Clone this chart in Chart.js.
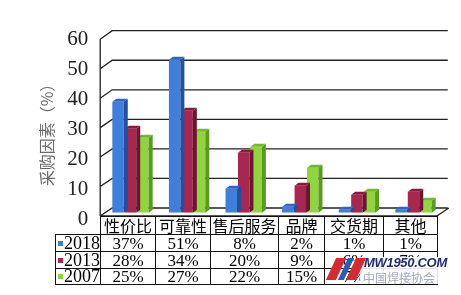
<!DOCTYPE html>
<html><head><meta charset="utf-8">
<script src="https://cdn.jsdelivr.net/npm/chart.js@4.4.1/dist/chart.umd.min.js"></script>
<style>
html,body{margin:0;padding:0;background:#fff;}
#wrap{position:relative;width:461px;height:295px;overflow:hidden;background:#fff;}
#c{position:absolute;left:0;top:0;}
#tbl{position:absolute;left:55px;top:216px;border-collapse:collapse;table-layout:fixed;width:382px;}
#tbl td{border:1px solid #111;padding:0;text-align:center;font-family:"Liberation Serif",serif;font-size:17px;line-height:15px;color:#000;white-space:nowrap;overflow:hidden;}
#tbl td.hd{font-family:"Noto Sans CJK SC";font-size:16px;}
#tbl td.empty{border:none;}
#tbl td.lg{text-align:left;font-size:18px;}
.sw{display:inline-block;width:5px;height:5px;margin:0 1px 0 2px;vertical-align:middle;position:relative;top:-1px;}
#wm{position:absolute;left:326px;top:254px;width:116px;height:31px;}
#wm .bg{position:absolute;left:34px;top:3px;width:80px;height:27px;background:rgba(255,255,255,0.88);}
#wm .r1{position:absolute;left:5px;top:4px;width:10px;height:22px;background:#d62a2e;transform:skewX(-25deg);}
#wm .b1{position:absolute;left:17px;top:4px;width:6px;height:22px;background:#2a5cb8;transform:skewX(-25deg);}
#wm .r2{position:absolute;left:25px;top:4px;width:10px;height:22px;background:#d62a2e;transform:skewX(-25deg);}
#wm .t1{position:absolute;left:38px;top:1px;font:italic bold 13px "Liberation Sans",Arial,sans-serif;color:#1c2f74;letter-spacing:-0.3px;}
#wm .t2{position:absolute;left:37px;top:15px;font:12px "Noto Sans CJK SC";color:#a4acbd;}
</style></head>
<body>
<div id="wrap">
<canvas id="c" width="461" height="295"></canvas>
<table id="tbl"><colgroup id="cg"></colgroup><tbody id="tb"></tbody></table>
<div id="wm"><div class="bg"></div><div class="r1"></div><div class="b1"></div><div class="r2"></div><div class="t1">MW1950.COM</div><div class="t2">中国焊接协会</div></div>
</div>
<script>
const categories = ['性价比','可靠性','售后服务','品牌','交货期','其他'];
const seriesNames = ['2018','2013','2007'];
const values2018 = [37,51,8,2,1,1];
const values2013 = [28,34,20,9,6,7];
const values2007 = [25,27,22,15,7,4];
const yTicks = [0,10,20,30,40,50,60];
const yTitle = '采购因素（%）';

const fronts = ['#3f7fdc','#a8264f','#8fd63e'];
const sides  = ['#21509f','#6c1431','#5b9a1f'];
const tops   = ['#2f66c4','#8a1b3f','#74b82c'];

const wall3d = {
  id:'wall3d',
  beforeDatasetsDraw(chart){
    const {ctx, chartArea:a, scales:{y}} = chart;
    const y0 = y.getPixelForValue(0);
    const fy = v => y0 + 3.3 + (y.getPixelForValue(v)-y0)*0.982;
    const by = v => y0 - 4.7 + (y.getPixelForValue(v)-y0)*0.985;
    const fx = a.left-2, bx = a.left+10, br = a.right+6, fr = a.right-5;
    ctx.save();
    ctx.strokeStyle='#222'; ctx.lineWidth=1.3;
    ctx.beginPath();
    yTicks.forEach(v=>{
      ctx.moveTo(fx, fy(v)); ctx.lineTo(bx, by(v)); ctx.lineTo(br, by(v));
    });
    ctx.moveTo(fx, fy(yTicks[yTicks.length-1])); ctx.lineTo(fx, fy(0));
    ctx.moveTo(fx, fy(0)); ctx.lineTo(fr, fy(0)); ctx.lineTo(br+1, by(0));
    ctx.stroke();
    ctx.restore();
  },
  afterDatasetDraw(chart, args){
    const {ctx} = chart;
    const i = args.index;
    const d = 4, dy = 3;
    ctx.save();
    args.meta.data.forEach(el=>{
      const {x, y, base, width} = el.getProps(['x','y','base','width'], true);
      const l = x - width/2, r = x + width/2;
      ctx.fillStyle = sides[i];
      ctx.beginPath();
      ctx.moveTo(r, y); ctx.lineTo(r+d, y-dy); ctx.lineTo(r+d, base-dy); ctx.lineTo(r, base); ctx.closePath(); ctx.fill();
      ctx.fillStyle = tops[i];
      ctx.beginPath();
      ctx.moveTo(l, y); ctx.lineTo(l+d, y-dy); ctx.lineTo(r+d, y-dy); ctx.lineTo(r, y); ctx.closePath(); ctx.fill();
    });
    ctx.restore();
  },
  afterDraw(chart){
    const {ctx} = chart;
    ctx.save();
    ctx.translate(47,131);
    ctx.rotate(-Math.PI/2);
    ctx.textAlign='center'; ctx.textBaseline='middle';
    ctx.font='16px "Noto Sans CJK SC"';
    ctx.fillStyle='#6a6a6a';
    ctx.fillText(yTitle,0,0);
    ctx.restore();
  }
};

const allSeries = [values2018, values2013, values2007];
new Chart(document.getElementById('c'), {
  type:'bar',
  data:{
    labels: categories,
    datasets: seriesNames.map((n,i)=>({
      label:n, data: allSeries[i], backgroundColor: fronts[i], borderWidth:0,
      categoryPercentage:0.66, barPercentage:0.92
    }))
  },
  options:{
    responsive:false, animation:false,
    layout:{padding:{left:0,right:19.2,top:32.7,bottom:82.3}},
    plugins:{legend:{display:false}, tooltip:{enabled:false}},
    scales:{
      x:{display:false},
      y:{
        min:0, max:60,
        afterFit(s){ s.width = 102.2; },
        afterBuildTicks(s){ s.ticks = yTicks.map(v=>({value:v})); },
        border:{display:false},
        grid:{display:false, drawTicks:false},
        ticks:{padding:14, labelOffset:7, color:'#222', font:{family:'"Liberation Serif", serif', size:21}}
      }
    }
  },
  plugins:[wall3d]
});

// table
const cg = document.getElementById('cg');
[45,55,55,68,46,59,54].forEach(w=>{const c=document.createElement('col'); c.style.width=w+'px'; cg.appendChild(c);});
const tb = document.getElementById('tb');
let tr = document.createElement('tr'); tr.style.height='18px';
let td = document.createElement('td'); td.className='empty'; tr.appendChild(td);
categories.forEach(c=>{const t=document.createElement('td'); t.className='hd'; t.textContent=c; tr.appendChild(t);});
tb.appendChild(tr);
const rowH=['17px','17px','16px'];
seriesNames.forEach((n,i)=>{
  const r=document.createElement('tr'); r.style.height=rowH[i];
  const l=document.createElement('td'); l.className='lg';
  const sw=document.createElement('span'); sw.className='sw'; sw.style.background=fronts[i];
  l.appendChild(sw); l.appendChild(document.createTextNode(n)); r.appendChild(l);
  allSeries[i].forEach(v=>{const t=document.createElement('td'); t.textContent=v+'%'; r.appendChild(t);});
  tb.appendChild(r);
});
</script>
</body></html>
